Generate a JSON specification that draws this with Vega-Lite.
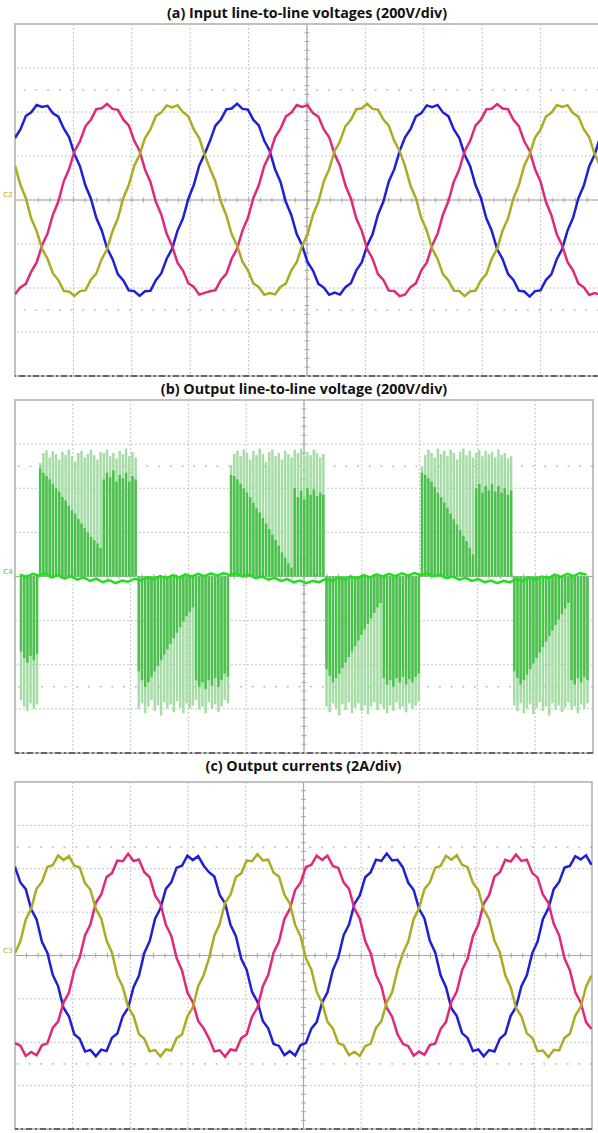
{
"$schema": "https://vega.github.io/schema/vega-lite/v6.json",
"background": "white",
"padding": {"left": 2, "right": 0, "top": 6, "bottom": 0},
"spacing": 4,
"config": {
  "view": {"stroke": "#adadad", "strokeWidth": 1.5},
  "title": {"fontSize": 14.3, "fontWeight": "bold", "font": "Open Sans", "color": "#111111", "anchor": "middle"},
  "axis": {"disable": true}
},
"datasets": {
  "gi": [{"g":-3},{"g":-2},{"g":-1},{"g":0},{"g":1},{"g":2},{"g":3},{"g":4},{"g":5},{"g":6},{"g":7},{"g":8},{"g":9}],
  "mt": [{"t":-3.8},{"t":-3.6},{"t":-3.4},{"t":-3.2},{"t":-3},{"t":-2.8},{"t":-2.6},{"t":-2.4},{"t":-2.2},{"t":-2},{"t":-1.8},{"t":-1.6},{"t":-1.4},{"t":-1.2},{"t":-1},{"t":-0.8},{"t":-0.6},{"t":-0.4},{"t":-0.2},{"t":0},{"t":0.2},{"t":0.4},{"t":0.6},{"t":0.8},{"t":1},{"t":1.2},{"t":1.4},{"t":1.6},{"t":1.8},{"t":2},{"t":2.2},{"t":2.4},{"t":2.6},{"t":2.8},{"t":3},{"t":3.2},{"t":3.4},{"t":3.6},{"t":3.8},{"t":4},{"t":4.2},{"t":4.4},{"t":4.6},{"t":4.8},{"t":5},{"t":5.2},{"t":5.4},{"t":5.6},{"t":5.8},{"t":6},{"t":6.2},{"t":6.4},{"t":6.6},{"t":6.8},{"t":7},{"t":7.2},{"t":7.4},{"t":7.6},{"t":7.8},{"t":8},{"t":8.2},{"t":8.4},{"t":8.6},{"t":8.8},{"t":9},{"t":9.2},{"t":9.4},{"t":9.6},{"t":9.8}],
  "va": [
{"x":0,"b":282,"m":-428,"o":156},{"x":10,"b":321,"m":-397,"o":69},{"x":20,"b":382,"m":-381,"o":8},{"x":30,"b":399,"m":-325,"o":-85},{"x":40,"b":432,"m":-284,"o":-141},{"x":50,"b":423,"m":-205,"o":-222},{"x":60,"b":428,"m":-153,"o":-267},{"x":70,"b":394,"m":-67,"o":-334},{"x":80,"b":379,"m":-7,"o":-364},{"x":90,"b":325,"m":85,"o":-413},
{"x":100,"b":285,"m":142,"o":-417},{"x":110,"b":207,"m":223,"o":-436},{"x":120,"b":153,"m":267,"o":-414},{"x":130,"b":66,"m":335,"o":-411},{"x":140,"b":7,"m":364,"o":-362},{"x":150,"b":-81,"m":413,"o":-335},{"x":160,"b":-137,"m":417,"o":-269},{"x":170,"b":-220,"m":437,"o":-224},{"x":180,"b":-268,"m":414,"o":-142},{"x":190,"b":-338,"m":410,"o":-83},
{"x":200,"b":-366,"m":365,"o":9},{"x":210,"b":-411,"m":339,"o":68},{"x":220,"b":-414,"m":270,"o":155},{"x":230,"b":-436,"m":223,"o":206},{"x":240,"b":-415,"m":138,"o":282},{"x":250,"b":-413,"m":82,"o":321},{"x":260,"b":-365,"m":-8,"o":381},{"x":270,"b":-334,"m":-66,"o":398},{"x":280,"b":-267,"m":-154,"o":430},{"x":290,"b":-222,"m":-209,"o":421},
{"x":300,"b":-139,"m":-285,"o":431},{"x":310,"b":-84,"m":-321,"o":399},{"x":320,"b":6,"m":-378,"o":381},{"x":330,"b":68,"m":-395,"o":321},{"x":340,"b":156,"m":-430,"o":282},{"x":350,"b":209,"m":-422,"o":206},{"x":360,"b":269,"m":-415,"o":142},{"x":370,"b":338,"m":-410,"o":84},{"x":380,"b":366,"m":-363,"o":-7},{"x":390,"b":412,"m":-336,"o":-69},
{"x":400,"b":416,"m":-267,"o":-156},{"x":410,"b":438,"m":-221,"o":-207},{"x":420,"b":414,"m":-138,"o":-282},{"x":430,"b":411,"m":-81,"o":-320},{"x":440,"b":364,"m":9,"o":-379},{"x":450,"b":339,"m":67,"o":-396},{"x":460,"b":270,"m":154,"o":-431},{"x":470,"b":224,"m":207,"o":-423},{"x":480,"b":140,"m":285,"o":-429},{"x":490,"b":83,"m":323,"o":-395},
{"x":500,"b":-9,"m":380,"o":-380},{"x":510,"b":-68,"m":397,"o":-320},{"x":520,"b":-155,"m":432,"o":-283},{"x":530,"b":-206,"m":423,"o":-209},{"x":540,"b":-283,"m":431,"o":-156},{"x":550,"b":-321,"m":395,"o":-68},{"x":560,"b":-381,"m":379,"o":-8},{"x":570,"b":-398,"m":321,"o":84},{"x":580,"b":-431,"m":285,"o":141},{"x":590,"b":-421,"m":208,"o":223},
{"x":600,"b":-430,"m":155,"o":267},{"x":610,"b":-396,"m":66,"o":336},{"x":620,"b":-378,"m":7,"o":364},{"x":630,"b":-320,"m":-84,"o":413},{"x":640,"b":-284,"m":-139,"o":416},{"x":650,"b":-208,"m":-222,"o":438},{"x":660,"b":-156,"m":-267,"o":414},{"x":670,"b":-67,"m":-337,"o":411},{"x":680,"b":-7,"m":-363,"o":366},{"x":690,"b":84,"m":-412,"o":338},
{"x":700,"b":139,"m":-414,"o":269},{"x":710,"b":222,"m":-437,"o":223},{"x":720,"b":285,"m":-429,"o":154},{"x":730,"b":322,"m":-396,"o":66},{"x":740,"b":380,"m":-379,"o":8},{"x":750,"b":395,"m":-320,"o":-82},{"x":760,"b":430,"m":-285,"o":-138},{"x":770,"b":422,"m":-207,"o":-221},{"x":780,"b":432,"m":-154,"o":-268},{"x":790,"b":398,"m":-66,"o":-338},
{"x":800,"b":381,"m":-6,"o":-365},{"x":810,"b":321,"m":83,"o":-412},{"x":820,"b":283,"m":138,"o":-414},{"x":830,"b":206,"m":222,"o":-437},{"x":840,"b":155,"m":268,"o":-415},{"x":850,"b":68,"m":338,"o":-413},{"x":860,"b":9,"m":365,"o":-366},{"x":870,"b":-83,"m":412,"o":-337},{"x":880,"b":-140,"m":415,"o":-267},{"x":890,"b":-224,"m":436,"o":-222},
{"x":900,"b":-268,"m":416,"o":-139},{"x":910,"b":-336,"m":413,"o":-84},{"x":920,"b":-363,"m":364,"o":7},{"x":930,"b":-412,"m":336,"o":67},{"x":940,"b":-416,"m":267,"o":156},{"x":950,"b":-439,"m":223,"o":208},{"x":960,"b":-414,"m":140,"o":284},{"x":970,"b":-411,"m":84,"o":320},{"x":980,"b":-364,"m":-8,"o":379},{"x":990,"b":-338,"m":-68,"o":396},
{"x":1000,"b":-269,"m":-156,"o":432},{"x":1010,"b":-223,"m":-207,"o":423},{"x":1020,"b":-138,"m":-283,"o":431},{"x":1030,"b":-82,"m":-320,"o":395},{"x":1040,"b":8,"m":-380,"o":379},{"x":1050,"b":66,"m":-397,"o":321},{"x":1060,"b":154,"m":-432,"o":285},{"x":1070,"b":207,"m":-423,"o":209},{"x":1080,"b":284,"m":-430,"o":155}
  ],
  "vb": [
{"x":2,"l":-560,"d":-340},{"x":8,"l":-590,"d":-370},{"x":14,"l":-610,"d":-390},{"x":20,"l":-575,"d":-360},{"x":26,"l":-600,"d":-380},{"x":32,"l":-580,"d":-350},
{"x":38,"l":515,"d":490},{"x":44,"l":560,"d":470},{"x":50,"l":572,"d":455},{"x":56,"l":540,"d":440},{"x":62,"l":568,"d":420},{"x":68,"l":555,"d":400},{"x":74,"l":530,"d":385},{"x":80,"l":565,"d":360},{"x":86,"l":550,"d":345},{"x":92,"l":575,"d":320},{"x":98,"l":545,"d":300},{"x":104,"l":520,"d":285},{"x":110,"l":560,"d":260},{"x":116,"l":570,"d":240},{"x":122,"l":540,"d":220},{"x":128,"l":555,"d":200},{"x":134,"l":575,"d":180},{"x":140,"l":550,"d":165},{"x":146,"l":530,"d":150},{"x":152,"l":565,"d":130},{"x":158,"l":560,"d":440},{"x":164,"l":575,"d":470},{"x":170,"l":545,"d":450},{"x":176,"l":560,"d":480},{"x":182,"l":535,"d":430},{"x":188,"l":570,"d":460},{"x":194,"l":555,"d":445},{"x":200,"l":580,"d":470},{"x":206,"l":545,"d":430},{"x":212,"l":565,"d":455},{"x":218,"l":540,"d":440},
{"x":224,"l":-600,"d":-430},{"x":230,"l":-575,"d":-470},{"x":236,"l":-620,"d":-500},{"x":242,"l":-590,"d":-480},{"x":248,"l":-560,"d":-455},{"x":254,"l":-610,"d":-430},{"x":260,"l":-585,"d":-405},{"x":266,"l":-630,"d":-380},{"x":272,"l":-570,"d":-355},{"x":278,"l":-600,"d":-330},{"x":284,"l":-580,"d":-305},{"x":290,"l":-615,"d":-280},{"x":296,"l":-565,"d":-255},{"x":302,"l":-595,"d":-230},{"x":308,"l":-620,"d":-205},{"x":314,"l":-575,"d":-180},{"x":320,"l":-600,"d":-160},{"x":326,"l":-585,"d":-140},{"x":332,"l":-560,"d":-470},{"x":338,"l":-605,"d":-500},{"x":344,"l":-590,"d":-480},{"x":350,"l":-620,"d":-510},{"x":356,"l":-570,"d":-470},{"x":362,"l":-600,"d":-495},{"x":368,"l":-580,"d":-460},{"x":374,"l":-615,"d":-500},{"x":380,"l":-590,"d":-470},{"x":386,"l":-560,"d":-440},{"x":392,"l":-575,"d":-455},
{"x":398,"l":505,"d":460},{"x":404,"l":555,"d":455},{"x":410,"l":570,"d":440},{"x":416,"l":545,"d":420},{"x":422,"l":575,"d":400},{"x":428,"l":560,"d":380},{"x":434,"l":530,"d":360},{"x":440,"l":570,"d":335},{"x":446,"l":550,"d":310},{"x":452,"l":580,"d":290},{"x":458,"l":555,"d":265},{"x":464,"l":520,"d":240},{"x":470,"l":565,"d":215},{"x":476,"l":575,"d":190},{"x":482,"l":545,"d":165},{"x":488,"l":560,"d":140},{"x":494,"l":530,"d":110},{"x":500,"l":570,"d":85},{"x":506,"l":555,"d":60},{"x":512,"l":540,"d":40},{"x":518,"l":575,"d":400},{"x":524,"l":560,"d":360},{"x":530,"l":580,"d":390},{"x":536,"l":545,"d":350},{"x":542,"l":565,"d":400},{"x":548,"l":550,"d":370},{"x":554,"l":575,"d":395},{"x":560,"l":560,"d":365},{"x":566,"l":540,"d":380},{"x":572,"l":555,"d":370},
{"x":578,"l":-590,"d":-420},{"x":584,"l":-615,"d":-450},{"x":590,"l":-575,"d":-480},{"x":596,"l":-600,"d":-460},{"x":602,"l":-630,"d":-440},{"x":608,"l":-580,"d":-415},{"x":614,"l":-605,"d":-390},{"x":620,"l":-570,"d":-365},{"x":626,"l":-620,"d":-340},{"x":632,"l":-595,"d":-315},{"x":638,"l":-575,"d":-290},{"x":644,"l":-610,"d":-265},{"x":650,"l":-585,"d":-240},{"x":656,"l":-625,"d":-215},{"x":662,"l":-590,"d":-190},{"x":668,"l":-570,"d":-165},{"x":674,"l":-605,"d":-140},{"x":680,"l":-580,"d":-120},{"x":686,"l":-600,"d":-460},{"x":692,"l":-620,"d":-490},{"x":698,"l":-585,"d":-470},{"x":704,"l":-610,"d":-500},{"x":710,"l":-570,"d":-460},{"x":716,"l":-600,"d":-480},{"x":722,"l":-590,"d":-455},{"x":728,"l":-615,"d":-490},{"x":734,"l":-575,"d":-465},{"x":740,"l":-600,"d":-480},{"x":746,"l":-585,"d":-455},{"x":752,"l":-565,"d":-440},
{"x":758,"l":500,"d":470},{"x":764,"l":550,"d":460},{"x":770,"l":575,"d":445},{"x":776,"l":560,"d":430},{"x":782,"l":540,"d":405},{"x":788,"l":580,"d":380},{"x":794,"l":555,"d":360},{"x":800,"l":570,"d":335},{"x":806,"l":545,"d":310},{"x":812,"l":575,"d":285},{"x":818,"l":560,"d":260},{"x":824,"l":530,"d":235},{"x":830,"l":565,"d":210},{"x":836,"l":580,"d":185},{"x":842,"l":550,"d":160},{"x":848,"l":570,"d":130},{"x":854,"l":540,"d":100},{"x":860,"l":560,"d":400},{"x":866,"l":575,"d":420},{"x":872,"l":545,"d":380},{"x":878,"l":570,"d":410},{"x":884,"l":555,"d":390},{"x":890,"l":565,"d":420},{"x":896,"l":540,"d":385},{"x":902,"l":575,"d":410},{"x":908,"l":550,"d":380},{"x":914,"l":560,"d":400},{"x":920,"l":535,"d":370},{"x":926,"l":545,"d":390},
{"x":932,"l":-585,"d":-430},{"x":938,"l":-610,"d":-460},{"x":944,"l":-575,"d":-490},{"x":950,"l":-620,"d":-470},{"x":956,"l":-600,"d":-445},{"x":962,"l":-580,"d":-420},{"x":968,"l":-625,"d":-395},{"x":974,"l":-595,"d":-370},{"x":980,"l":-570,"d":-345},{"x":986,"l":-610,"d":-320},{"x":992,"l":-590,"d":-295},{"x":998,"l":-630,"d":-270},{"x":1004,"l":-575,"d":-245},{"x":1010,"l":-605,"d":-220},{"x":1016,"l":-585,"d":-195},{"x":1022,"l":-615,"d":-170},{"x":1028,"l":-595,"d":-145},{"x":1034,"l":-570,"d":-120},{"x":1040,"l":-605,"d":-470},{"x":1046,"l":-590,"d":-490},{"x":1052,"l":-620,"d":-460},{"x":1058,"l":-580,"d":-480},{"x":1064,"l":-600,"d":-455},{"x":1070,"l":-575,"d":-470}
  ],
  "bb": [{"x":0,"v":8},{"x":12,"v":-2},{"x":24,"v":12},{"x":36,"v":4},{"x":48,"v":14},{"x":60,"v":-4},{"x":72,"v":6},{"x":84,"v":-10},{"x":96,"v":2},{"x":108,"v":-14},{"x":120,"v":-4},{"x":132,"v":-20},{"x":144,"v":-10},{"x":156,"v":-26},{"x":168,"v":-16},{"x":180,"v":-30},{"x":192,"v":-18},{"x":204,"v":-24},{"x":216,"v":-10},{"x":228,"v":-18},{"x":240,"v":-4},{"x":252,"v":-12},{"x":264,"v":2},{"x":276,"v":-8},{"x":288,"v":6},{"x":300,"v":-4},{"x":312,"v":10},{"x":324,"v":0},{"x":336,"v":12},{"x":348,"v":2},{"x":360,"v":14},{"x":372,"v":4},{"x":384,"v":16},{"x":396,"v":6},{"x":408,"v":14},{"x":420,"v":0},{"x":432,"v":8},{"x":444,"v":-8},{"x":456,"v":0},{"x":468,"v":-14},{"x":480,"v":-6},{"x":492,"v":-20},{"x":504,"v":-12},{"x":516,"v":-26},{"x":528,"v":-18},{"x":540,"v":-30},{"x":552,"v":-20},{"x":564,"v":-26},{"x":576,"v":-12},{"x":588,"v":-20},{"x":600,"v":-6},{"x":612,"v":-14},{"x":624,"v":0},{"x":636,"v":-8},{"x":648,"v":6},{"x":660,"v":-4},{"x":672,"v":10},{"x":684,"v":0},{"x":696,"v":12},{"x":708,"v":2},{"x":720,"v":14},{"x":732,"v":4},{"x":744,"v":16},{"x":756,"v":6},{"x":768,"v":14},{"x":780,"v":0},{"x":792,"v":8},{"x":804,"v":-8},{"x":816,"v":0},{"x":828,"v":-14},{"x":840,"v":-6},{"x":852,"v":-20},{"x":864,"v":-12},{"x":876,"v":-26},{"x":888,"v":-18},{"x":900,"v":-30},{"x":912,"v":-20},{"x":924,"v":-26},{"x":936,"v":-12},{"x":948,"v":-20},{"x":960,"v":-6},{"x":972,"v":-14},{"x":984,"v":0},{"x":996,"v":-8},{"x":1008,"v":8},{"x":1020,"v":-2},{"x":1032,"v":12},{"x":1044,"v":2},{"x":1056,"v":16},{"x":1068,"v":8}],
  "vc": [
{"x":0,"o":0.12,"m":-4.04,"b":4.09},{"x":10,"o":0.65,"m":-4.16,"b":3.37},{"x":20,"o":1.66,"m":-4.63,"b":3.06},{"x":30,"o":2.15,"m":-4.45,"b":2.13},{"x":40,"o":3.08,"m":-4.6,"b":1.67},{"x":50,"o":3.39,"m":-4.14,"b":0.63},{"x":60,"o":4.08,"m":-4.05,"b":0.13},{"x":70,"o":4.16,"m":-3.34,"b":-0.89},{"x":80,"o":4.61,"m":-3.05,"b":-1.41},{"x":90,"o":4.4,"m":-2.17,"b":-2.41},
{"x":100,"o":4.58,"m":-1.72,"b":-2.8},{"x":110,"o":4.14,"m":-0.67,"b":-3.63},{"x":120,"o":4.06,"m":-0.1,"b":-3.84},{"x":130,"o":3.34,"m":0.93,"b":-4.43},{"x":140,"o":3.03,"m":1.44,"b":-4.35},{"x":150,"o":2.16,"m":2.43,"b":-4.65},{"x":160,"o":1.71,"m":2.81,"b":-4.34},{"x":170,"o":0.69,"m":3.62,"b":-4.4},{"x":180,"o":0.13,"m":3.8,"b":-3.79},{"x":190,"o":-0.94,"m":4.38,"b":-3.6},
{"x":200,"o":-1.44,"m":4.35,"b":-2.8},{"x":210,"o":-2.38,"m":4.69,"b":-2.42},{"x":220,"o":-2.78,"m":4.36,"b":-1.46},{"x":230,"o":-3.62,"m":4.43,"b":-0.94},{"x":240,"o":-3.84,"m":3.84,"b":0.12},{"x":250,"o":-4.42,"m":3.61,"b":0.66},{"x":260,"o":-4.36,"m":2.77,"b":1.7},{"x":270,"o":-4.66,"m":2.39,"b":2.18},{"x":280,"o":-4.33,"m":1.42,"b":3.07},{"x":290,"o":-4.38,"m":0.91,"b":3.37},
{"x":300,"o":-3.81,"m":-0.12,"b":4.05},{"x":310,"o":-3.64,"m":-0.69,"b":4.14},{"x":320,"o":-2.81,"m":-1.71,"b":4.6},{"x":330,"o":-2.4,"m":-2.15,"b":4.4},{"x":340,"o":-1.42,"m":-3.02,"b":4.58},{"x":350,"o":-0.92,"m":-3.35,"b":4.15},{"x":360,"o":-0.14,"m":-3.82,"b":3.84},{"x":370,"o":0.91,"m":-4.42,"b":3.64},{"x":380,"o":1.46,"m":-4.37,"b":2.79},{"x":390,"o":2.43,"m":-4.67,"b":2.4},
{"x":400,"o":2.8,"m":-4.33,"b":1.42},{"x":410,"o":3.62,"m":-4.38,"b":0.89},{"x":420,"o":3.79,"m":-3.81,"b":-0.15},{"x":430,"o":4.38,"m":-3.64,"b":-0.66},{"x":440,"o":4.35,"m":-2.82,"b":-1.68},{"x":450,"o":4.67,"m":-2.41,"b":-2.13},{"x":460,"o":4.38,"m":-1.42,"b":-3.02},{"x":470,"o":4.42,"m":-0.9,"b":-3.36},{"x":480,"o":3.82,"m":0.13,"b":-4.08},{"x":490,"o":3.64,"m":0.64,"b":-4.17},
{"x":500,"o":2.81,"m":1.68,"b":-4.6},{"x":510,"o":2.4,"m":2.14,"b":-4.41},{"x":520,"o":1.41,"m":3.02,"b":-4.61},{"x":530,"o":0.89,"m":3.36,"b":-4.13},{"x":540,"o":-0.13,"m":4.08,"b":-4.04},{"x":550,"o":-0.64,"m":4.18,"b":-3.37},{"x":560,"o":-1.68,"m":4.61,"b":-3.07},{"x":570,"o":-2.18,"m":4.41,"b":-2.17},{"x":580,"o":-3.06,"m":4.6,"b":-1.7},{"x":590,"o":-3.36,"m":4.13,"b":-0.67},
{"x":600,"o":-4.04,"m":4.04,"b":-0.1},{"x":610,"o":-4.14,"m":3.37,"b":0.94},{"x":620,"o":-4.6,"m":3.07,"b":1.43},{"x":630,"o":-4.44,"m":2.17,"b":2.38},{"x":640,"o":-4.63,"m":1.7,"b":2.77},{"x":650,"o":-4.18,"m":0.67,"b":3.61},{"x":660,"o":-4.07,"m":0.12,"b":3.83},{"x":670,"o":-3.34,"m":-0.89,"b":4.42},{"x":680,"o":-3.03,"m":-1.41,"b":4.36},{"x":690,"o":-2.16,"m":-2.41,"b":4.7},
{"x":700,"o":-1.7,"m":-2.82,"b":4.38},{"x":710,"o":-0.66,"m":-3.63,"b":4.41},{"x":720,"o":0.1,"m":-4.07,"b":4.06},{"x":730,"o":0.64,"m":-4.18,"b":3.35},{"x":740,"o":1.69,"m":-4.62,"b":3.02},{"x":750,"o":2.18,"m":-4.43,"b":2.15},{"x":760,"o":3.06,"m":-4.58,"b":1.71},{"x":770,"o":3.37,"m":-4.13,"b":0.68},{"x":780,"o":4.05,"m":-4.06,"b":0.14},{"x":790,"o":4.13,"m":-3.39,"b":-0.91},
{"x":800,"o":4.6,"m":-3.06,"b":-1.46},{"x":810,"o":4.42,"m":-2.13,"b":-2.43},{"x":820,"o":4.63,"m":-1.66,"b":-2.79},{"x":830,"o":4.18,"m":-0.66,"b":-3.59},{"x":840,"o":4.07,"m":-0.15,"b":-3.8},{"x":850,"o":3.35,"m":0.89,"b":-4.4},{"x":860,"o":3.02,"m":1.43,"b":-4.33},{"x":870,"o":2.13,"m":2.4,"b":-4.65},{"x":880,"o":1.68,"m":2.78,"b":-4.36},{"x":890,"o":0.68,"m":3.64,"b":-4.43},
{"x":900,"o":0.15,"m":3.84,"b":-3.84},{"x":910,"o":-0.91,"m":4.41,"b":-3.62},{"x":920,"o":-1.46,"m":4.33,"b":-2.78},{"x":930,"o":-2.42,"m":4.66,"b":-2.38},{"x":940,"o":-2.8,"m":4.36,"b":-1.41},{"x":950,"o":-3.59,"m":4.42,"b":-0.91},{"x":960,"o":-3.79,"m":3.81,"b":0.1},{"x":970,"o":-4.41,"m":3.59,"b":0.64},{"x":980,"o":-4.38,"m":2.8,"b":1.69},{"x":990,"o":-4.69,"m":2.43,"b":2.17},
{"x":1000,"o":-4.35,"m":1.46,"b":3.06},{"x":1010,"o":-4.38,"m":0.93,"b":3.39},{"x":1020,"o":-3.8,"m":-0.13,"b":4.06},{"x":1030,"o":-3.61,"m":-0.69,"b":4.13},{"x":1040,"o":-2.77,"m":-1.7,"b":4.58},{"x":1050,"o":-2.38,"m":-2.16,"b":4.43},{"x":1060,"o":-1.44,"m":-3.07,"b":4.62},{"x":1070,"o":-0.93,"m":-3.39,"b":4.18}
  ]
},
"vconcat": [
{
  "title": {"text": "(a) Input line-to-line voltages (200V/div)", "offset": 2},
  "width": 584, "height": 352,
  "resolve": {"scale": {"x": "independent", "y": "independent"}},
  "layer": [
    {"layer": [
      {"data": {"name": "gi"}, "transform": [{"filter": "datum.g >= 1 && datum.g <= 9"}], "mark": {"type": "rule", "color": "#c4c4c4", "strokeDash": [2, 2]},
       "encoding": {"x": {"field": "g", "type": "quantitative", "scale": {"domain": [0, 10], "nice": false, "zero": false}}}},
      {"data": {"name": "gi"}, "transform": [{"filter": "datum.g >= -3 && datum.g <= 3"}], "mark": {"type": "rule", "color": "#c4c4c4", "strokeDash": [2, 2]},
       "encoding": {"y": {"field": "g", "type": "quantitative", "scale": {"domain": [-4, 4], "nice": false, "zero": false}}}},
      {"data": {"values": [{"v": 5}]}, "mark": {"type": "rule", "color": "#a8a8a8", "strokeWidth": 1.2},
       "encoding": {"x": {"field": "v", "type": "quantitative", "scale": {"domain": [0, 10], "nice": false, "zero": false}}}},
      {"data": {"values": [{"v": 0}]}, "mark": {"type": "rule", "color": "#a8a8a8", "strokeWidth": 1.2},
       "encoding": {"y": {"field": "v", "type": "quantitative", "scale": {"domain": [-4, 4], "nice": false, "zero": false}}}},
      {"data": {"name": "mt"}, "transform": [{"filter": "datum.t > 0.1 && datum.t < 9.9"}],
       "mark": {"type": "tick", "size": 5, "thickness": 1, "color": "#a8a8a8", "opacity": 1},
       "encoding": {"x": {"field": "t", "type": "quantitative", "scale": {"domain": [0, 10], "nice": false, "zero": false}}}},
      {"data": {"name": "mt"}, "transform": [{"filter": "datum.t > -3.9 && datum.t < 3.9"}],
       "mark": {"type": "tick", "size": 5, "thickness": 1, "color": "#a8a8a8", "opacity": 1},
       "encoding": {"y": {"field": "t", "type": "quantitative", "scale": {"domain": [-4, 4], "nice": false, "zero": false}}}},
      {"data": {"values": [{"v": 2.5}, {"v": -2.5}]}, "mark": {"type": "rule", "color": "#9c9c9c", "strokeDash": [2, 9.7]},
       "encoding": {"y": {"field": "v", "type": "quantitative", "scale": {"domain": [-4, 4], "nice": false, "zero": false}}}},
      {"data": {"values": [{"v": -4}]}, "mark": {"type": "rule", "color": "#666666", "strokeWidth": 2, "strokeDash": [6, 3, 2, 3]},
       "encoding": {"y": {"field": "v", "type": "quantitative", "scale": {"domain": [-4, 4], "nice": false, "zero": false}}}},
      {"data": {"values": [{"x": -0.04, "y": 0.04, "lab": "C2"}]}, "mark": {"type": "text", "align": "right", "baseline": "bottom", "fontSize": 7, "color": "#b8aa2a", "font": "DejaVu Sans"},
       "encoding": {"x": {"field": "x", "type": "quantitative", "scale": {"domain": [0, 10], "nice": false, "zero": false}}, "y": {"field": "y", "type": "quantitative", "scale": {"domain": [-4, 4], "nice": false, "zero": false}}, "text": {"field": "lab"}}}
    ]},
    {"layer": [
      {"data": {"name": "va"}, "transform": [{"fold": ["b", "m", "o"], "as": ["s", "v"]}],
       "mark": {"type": "line", "strokeWidth": 2.5, "clip": true},
       "encoding": {
         "x": {"field": "x", "type": "quantitative", "scale": {"domain": [0, 1078], "nice": false, "zero": false}},
         "y": {"field": "v", "type": "quantitative", "scale": {"domain": [-800, 800], "nice": false, "zero": false}},
         "color": {"field": "s", "type": "nominal", "scale": {"domain": ["b", "m", "o"], "range": ["#1f1fd6", "#e0287c", "#abab24"]}, "legend": null}}}
    ]}
  ]
},
{
  "title": {"text": "(b) Output line-to-line voltage (200V/div)", "offset": 2},
  "width": 578, "height": 353,
  "resolve": {"scale": {"x": "independent", "y": "independent"}},
  "layer": [
    {"layer": [
      {"data": {"name": "gi"}, "transform": [{"filter": "datum.g >= 1 && datum.g <= 9"}], "mark": {"type": "rule", "color": "#c4c4c4", "strokeDash": [2, 2]},
       "encoding": {"x": {"field": "g", "type": "quantitative", "scale": {"domain": [0, 10], "nice": false, "zero": false}}}},
      {"data": {"name": "gi"}, "transform": [{"filter": "datum.g >= -3 && datum.g <= 3"}], "mark": {"type": "rule", "color": "#c4c4c4", "strokeDash": [2, 2]},
       "encoding": {"y": {"field": "g", "type": "quantitative", "scale": {"domain": [-4, 4], "nice": false, "zero": false}}}},
      {"data": {"values": [{"v": 5}]}, "mark": {"type": "rule", "color": "#a8a8a8", "strokeWidth": 1.2},
       "encoding": {"x": {"field": "v", "type": "quantitative", "scale": {"domain": [0, 10], "nice": false, "zero": false}}}},
      {"data": {"values": [{"v": 0}]}, "mark": {"type": "rule", "color": "#a8a8a8", "strokeWidth": 1.2},
       "encoding": {"y": {"field": "v", "type": "quantitative", "scale": {"domain": [-4, 4], "nice": false, "zero": false}}}},
      {"data": {"name": "mt"}, "transform": [{"filter": "datum.t > 0.1 && datum.t < 9.9"}],
       "mark": {"type": "tick", "size": 5, "thickness": 1, "color": "#a8a8a8", "opacity": 1},
       "encoding": {"x": {"field": "t", "type": "quantitative", "scale": {"domain": [0, 10], "nice": false, "zero": false}}}},
      {"data": {"name": "mt"}, "transform": [{"filter": "datum.t > -3.9 && datum.t < 3.9"}],
       "mark": {"type": "tick", "size": 5, "thickness": 1, "color": "#a8a8a8", "opacity": 1},
       "encoding": {"y": {"field": "t", "type": "quantitative", "scale": {"domain": [-4, 4], "nice": false, "zero": false}}}},
      {"data": {"values": [{"v": 2.5}, {"v": -2.5}]}, "mark": {"type": "rule", "color": "#9c9c9c", "strokeDash": [2, 9.7]},
       "encoding": {"y": {"field": "v", "type": "quantitative", "scale": {"domain": [-4, 4], "nice": false, "zero": false}}}},
      {"data": {"values": [{"v": -4}]}, "mark": {"type": "rule", "color": "#666666", "strokeWidth": 2, "strokeDash": [6, 3, 2, 3]},
       "encoding": {"y": {"field": "v", "type": "quantitative", "scale": {"domain": [-4, 4], "nice": false, "zero": false}}}},
      {"data": {"values": [{"x": -0.04, "y": 0.04, "lab": "C4"}]}, "mark": {"type": "text", "align": "right", "baseline": "bottom", "fontSize": 7, "color": "#3cc43c", "font": "DejaVu Sans"},
       "encoding": {"x": {"field": "x", "type": "quantitative", "scale": {"domain": [0, 10], "nice": false, "zero": false}}, "y": {"field": "y", "type": "quantitative", "scale": {"domain": [-4, 4], "nice": false, "zero": false}}, "text": {"field": "lab"}}}
    ]},
    {"layer": [
      {"data": {"name": "vb"}, "mark": {"type": "bar", "color": "#a6dca6", "size": 2.5, "clip": true},
       "encoding": {
         "x": {"field": "x", "type": "quantitative", "scale": {"domain": [0, 1071], "nice": false, "zero": false}},
         "y": {"field": "l", "type": "quantitative", "stack": null, "scale": {"domain": [-800, 800], "nice": false}}}},
      {"data": {"name": "vb"}, "mark": {"type": "bar", "color": "#4cc04c", "size": 2.5, "clip": true},
       "encoding": {
         "x": {"field": "x", "type": "quantitative", "scale": {"domain": [0, 1071], "nice": false, "zero": false}},
         "y": {"field": "d", "type": "quantitative", "stack": null, "scale": {"domain": [-800, 800], "nice": false}}}},
      {"data": {"name": "bb"}, "mark": {"type": "line", "color": "#22dd22", "strokeWidth": 2.5, "clip": true},
       "encoding": {
         "x": {"field": "x", "type": "quantitative", "scale": {"domain": [0, 1071], "nice": false, "zero": false}},
         "y": {"field": "v", "type": "quantitative", "scale": {"domain": [-800, 800], "nice": false}}}}
    ]}
  ]
},
{
  "title": {"text": "(c) Output currents (2A/div)", "offset": 7},
  "width": 577, "height": 347,
  "resolve": {"scale": {"x": "independent", "y": "independent"}},
  "layer": [
    {"layer": [
      {"data": {"name": "gi"}, "transform": [{"filter": "datum.g >= 1 && datum.g <= 9"}], "mark": {"type": "rule", "color": "#c4c4c4", "strokeDash": [2, 2]},
       "encoding": {"x": {"field": "g", "type": "quantitative", "scale": {"domain": [0, 10], "nice": false, "zero": false}}}},
      {"data": {"name": "gi"}, "transform": [{"filter": "datum.g >= -3 && datum.g <= 3"}], "mark": {"type": "rule", "color": "#c4c4c4", "strokeDash": [2, 2]},
       "encoding": {"y": {"field": "g", "type": "quantitative", "scale": {"domain": [-4, 4], "nice": false, "zero": false}}}},
      {"data": {"values": [{"v": 5}]}, "mark": {"type": "rule", "color": "#a8a8a8", "strokeWidth": 1.2},
       "encoding": {"x": {"field": "v", "type": "quantitative", "scale": {"domain": [0, 10], "nice": false, "zero": false}}}},
      {"data": {"values": [{"v": 0}]}, "mark": {"type": "rule", "color": "#a8a8a8", "strokeWidth": 1.2},
       "encoding": {"y": {"field": "v", "type": "quantitative", "scale": {"domain": [-4, 4], "nice": false, "zero": false}}}},
      {"data": {"name": "mt"}, "transform": [{"filter": "datum.t > 0.1 && datum.t < 9.9"}],
       "mark": {"type": "tick", "size": 5, "thickness": 1, "color": "#a8a8a8", "opacity": 1},
       "encoding": {"x": {"field": "t", "type": "quantitative", "scale": {"domain": [0, 10], "nice": false, "zero": false}}}},
      {"data": {"name": "mt"}, "transform": [{"filter": "datum.t > -3.9 && datum.t < 3.9"}],
       "mark": {"type": "tick", "size": 5, "thickness": 1, "color": "#a8a8a8", "opacity": 1},
       "encoding": {"y": {"field": "t", "type": "quantitative", "scale": {"domain": [-4, 4], "nice": false, "zero": false}}}},
      {"data": {"values": [{"v": 2.5}, {"v": -2.5}]}, "mark": {"type": "rule", "color": "#9c9c9c", "strokeDash": [2, 9.7]},
       "encoding": {"y": {"field": "v", "type": "quantitative", "scale": {"domain": [-4, 4], "nice": false, "zero": false}}}},
      {"data": {"values": [{"v": -4}]}, "mark": {"type": "rule", "color": "#666666", "strokeWidth": 2, "strokeDash": [6, 3, 2, 3]},
       "encoding": {"y": {"field": "v", "type": "quantitative", "scale": {"domain": [-4, 4], "nice": false, "zero": false}}}},
      {"data": {"values": [{"x": -0.04, "y": 0.04, "lab": "C3"}]}, "mark": {"type": "text", "align": "right", "baseline": "bottom", "fontSize": 7, "color": "#b8aa2a", "font": "DejaVu Sans"},
       "encoding": {"x": {"field": "x", "type": "quantitative", "scale": {"domain": [0, 10], "nice": false, "zero": false}}, "y": {"field": "y", "type": "quantitative", "scale": {"domain": [-4, 4], "nice": false, "zero": false}}, "text": {"field": "lab"}}}
    ]},
    {"layer": [
      {"data": {"name": "vc"}, "transform": [{"fold": ["b", "m", "o"], "as": ["s", "v"]}],
       "mark": {"type": "line", "strokeWidth": 2.5, "clip": true},
       "encoding": {
         "x": {"field": "x", "type": "quantitative", "scale": {"domain": [0, 1071], "nice": false, "zero": false}},
         "y": {"field": "v", "type": "quantitative", "scale": {"domain": [-8, 8], "nice": false, "zero": false}},
         "color": {"field": "s", "type": "nominal", "scale": {"domain": ["b", "m", "o"], "range": ["#1f1fd6", "#e0287c", "#abab24"]}, "legend": null}}}
    ]}
  ]
}
]
}
